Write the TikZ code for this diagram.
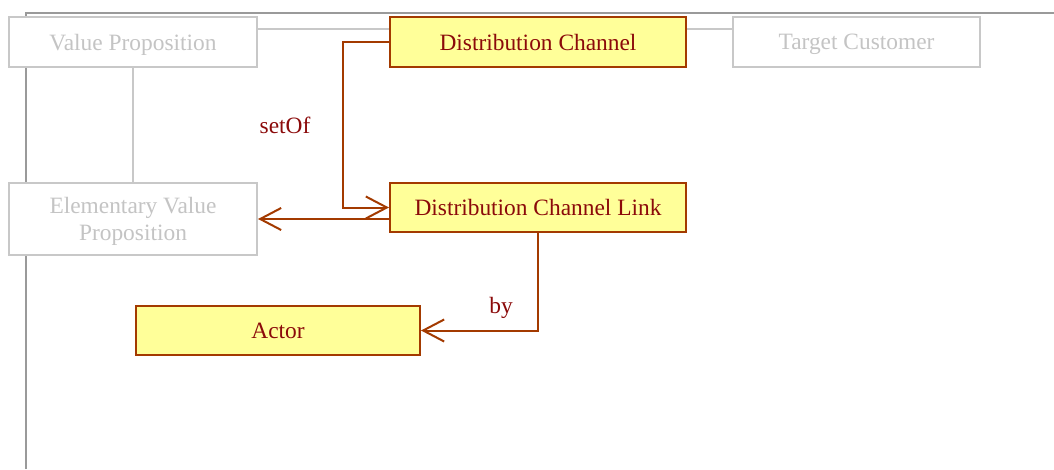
\documentclass[tikz,border=0pt]{standalone}
\usepackage{fontspec}
\setmainfont{Liberation Serif}
\usetikzlibrary{arrows.meta}
\definecolor{frameGray}{HTML}{9A9A9A}
\definecolor{fadeGray}{HTML}{C8C8C8}
\definecolor{fadeText}{HTML}{C4C4C4}
\definecolor{boxFill}{HTML}{FFFF99}
\definecolor{boxLine}{HTML}{A33A00}
\definecolor{boxText}{HTML}{8B0A0A}
\tikzset{
  x=1pt, y=-1pt,
  base/.style={rectangle, inner sep=0pt, text depth=0pt, font=\fontsize{23.4}{27}\selectfont, align=center},
  active/.style={base, draw=boxLine, fill=boxFill, text=boxText, line width=2pt},
  faded/.style={base, draw=fadeGray, fill=white, text=fadeText, line width=2pt},
  conn/.style={draw=boxLine, line width=2pt},
  openarrow/.style={-{Straight Barb[length=21pt,width=22pt,line width=2pt]}},
  fadedlink/.style={draw=fadeGray, line width=2pt},
  lbl/.style={font=\fontsize{23.4}{27}\selectfont, text=boxText, inner sep=0pt}
}
\begin{document}
\begin{tikzpicture}
\useasboundingbox (0,0) rectangle (1054,469);
% outer frame
\draw[frameGray, line width=2pt] (26,469) -- (26,13) -- (1054,13);

% nodes
\node[faded, minimum width=248pt, minimum height=50pt] (VP) at (133,42) {Value Proposition};
\node[active, minimum width=296pt, minimum height=50pt] (DC) at (538,42) {Distribution Channel};
\node[faded, minimum width=247pt, minimum height=50pt] (TC) at (856.5,42) {Target Customer};
\node[faded, minimum width=248pt, minimum height=72pt] (EVP) at (133,219) {Elementary Value\\Proposition};
\node[active, minimum width=296pt, minimum height=49pt] (DCL) at (538,207.5) {Distribution Channel Link};
\node[active, minimum width=284pt, minimum height=49pt] (Actor) at (278,330.5) {Actor};

% faded links
\draw[fadedlink] ([yshift=13pt]VP.east) -- ([yshift=13pt]DC.west);
\draw[fadedlink] ([yshift=13pt]DC.east) -- ([yshift=13pt]TC.west);
\draw[fadedlink] (VP.south) -- (EVP.north);

% active connectors
\draw[conn, openarrow] (DC.west) -- ++(-46,0) |- (DCL.west);
\draw[conn, openarrow] (DCL.west |- EVP.east) -- (EVP.east);
\draw[conn, openarrow] (DCL.south) |- (Actor.east);

% labels
\node[lbl] (setof) at (285,125) {setOf};
\node[lbl] (by) at (501,308) {by};
\end{tikzpicture}
\end{document}
